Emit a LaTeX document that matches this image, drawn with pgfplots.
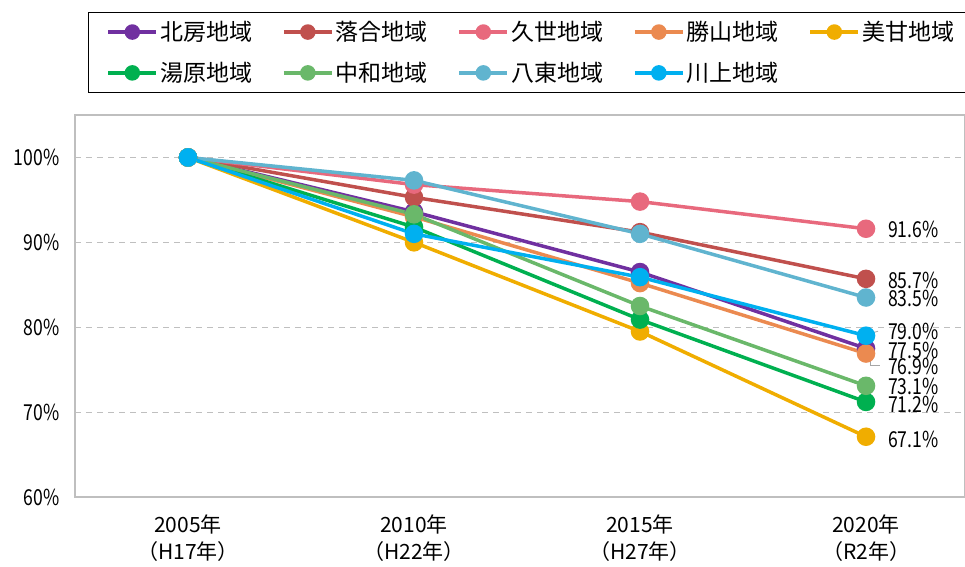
\documentclass[border=0pt]{standalone}
\usepackage{pgfplots}
\pgfplotsset{compat=1.18}
\usepackage{fontspec}
\setmainfont{Noto Sans CJK JP}
\newfontfamily\cond[FakeStretch=0.8]{Noto Sans CJK JP}
\definecolor{cHokubo}{HTML}{7030A0}
\definecolor{cOchiai}{HTML}{C0504D}
\definecolor{cKuse}{HTML}{E8697D}
\definecolor{cKatsuyama}{HTML}{EB8A50}
\definecolor{cMikamo}{HTML}{F0AD00}
\definecolor{cYubara}{HTML}{00B050}
\definecolor{cChuka}{HTML}{6AB86A}
\definecolor{cYatsuka}{HTML}{60B4CF}
\definecolor{cKawakami}{HTML}{00B0F0}
\definecolor{gridgray}{HTML}{BFBFBF}
\begin{document}
\begin{tikzpicture}
\useasboundingbox (-75pt,-69pt) rectangle (890pt,497pt);
\begin{axis}[
  at={(0pt,0pt)}, anchor=south west,
  scale only axis, width=890pt, height=382pt,
  xmin=-0.5, xmax=3.438, ymin=60, ymax=105,
  xtick={0,1,2,3},
  xticklabels={{2005年\\（H17年）},{2010年\\（H22年）},{2015年\\（H27年）},{2020年\\（R2年）}},
  xticklabel style={align=center, font=\fontsize{21}{27}\selectfont, yshift=-14pt},
  ytick={60,70,80,90,100},
  yticklabels={60\%,70\%,80\%,90\%,100\%},
  yticklabel style={font=\cond\fontsize{22}{24}\selectfont, xshift=-12pt},
  major tick length=0pt,
  axis line style={draw=gridgray, line width=1.5pt},
  ymajorgrids, grid style={draw=gridgray, line width=1.2pt, dash pattern=on 6pt off 5pt},
  clip=false,
  legend columns=5,
  legend style={at={(axis description cs:0.0146,1.2696)}, anchor=north west,
    draw=black, line width=1.2pt, font=\fontsize{23}{26}\selectfont,
    inner xsep=18pt, inner ysep=7pt, row sep=16pt,
    nodes={inner sep=2pt},
    /tikz/every even column/.append style={column sep=28pt}},
  legend cell align=left,
  legend image code/.code={\draw[#1, mark repeat=2, mark phase=2, mark size=6pt] plot coordinates {(0pt,0pt) (24pt,0pt) (48pt,0pt)};},
  every axis plot/.append style={line width=3.5pt, mark=*, mark size=7.5pt, mark options={solid}},
]
\addplot[color=cHokubo] coordinates {(0,100) (1,93.6) (2,86.5) (3,77.5)};
\addlegendentry{北房地域}
\addplot[color=cOchiai] coordinates {(0,100) (1,95.3) (2,91.2) (3,85.7)};
\addlegendentry{落合地域}
\addplot[color=cKuse] coordinates {(0,100) (1,96.8) (2,94.8) (3,91.6)};
\addlegendentry{久世地域}
\addplot[color=cKatsuyama] coordinates {(0,100) (1,93.0) (2,85.2) (3,76.9)};
\addlegendentry{勝山地域}
\addplot[color=cMikamo] coordinates {(0,100) (1,90.0) (2,79.5) (3,67.1)};
\addlegendentry{美甘地域}
\addplot[color=cYubara] coordinates {(0,100) (1,91.8) (2,80.9) (3,71.2)};
\addlegendentry{湯原地域}
\addplot[color=cChuka] coordinates {(0,100) (1,93.3) (2,82.5) (3,73.1)};
\addlegendentry{中和地域}
\addplot[color=cYatsuka] coordinates {(0,100) (1,97.3) (2,91.0) (3,83.5)};
\addlegendentry{八東地域}
\addplot[color=cKawakami] coordinates {(0,100) (1,91.0) (2,85.9) (3,79.0)};
\addlegendentry{川上地域}
% leader lines
\draw[gray!70, line width=0.8pt] (axis cs:3.009,79.18) -- (axis cs:3.053,79.53);
\draw[gray!70, line width=0.8pt] (axis cs:3.018,76.47) -- (axis cs:3.018,75.53) -- (axis cs:3.062,75.53);
% data labels
\begin{scope}[every node/.style={anchor=west, inner sep=0pt, font=\cond\fontsize{22}{24}\selectfont}]
\node at (axis cs:3.097,91.53) {91.6\%};
\node at (axis cs:3.097,85.53) {85.7\%};
\node at (axis cs:3.097,83.41) {83.5\%};
\node at (axis cs:3.097,79.45) {79.0\%};
\node at (axis cs:3.097,77.29) {77.5\%};
\node at (axis cs:3.097,75.41) {76.9\%};
\node at (axis cs:3.097,72.98) {73.1\%};
\node at (axis cs:3.097,70.94) {71.2\%};
\node at (axis cs:3.097,66.82) {67.1\%};
\end{scope}
\end{axis}
\end{tikzpicture}
\end{document}
